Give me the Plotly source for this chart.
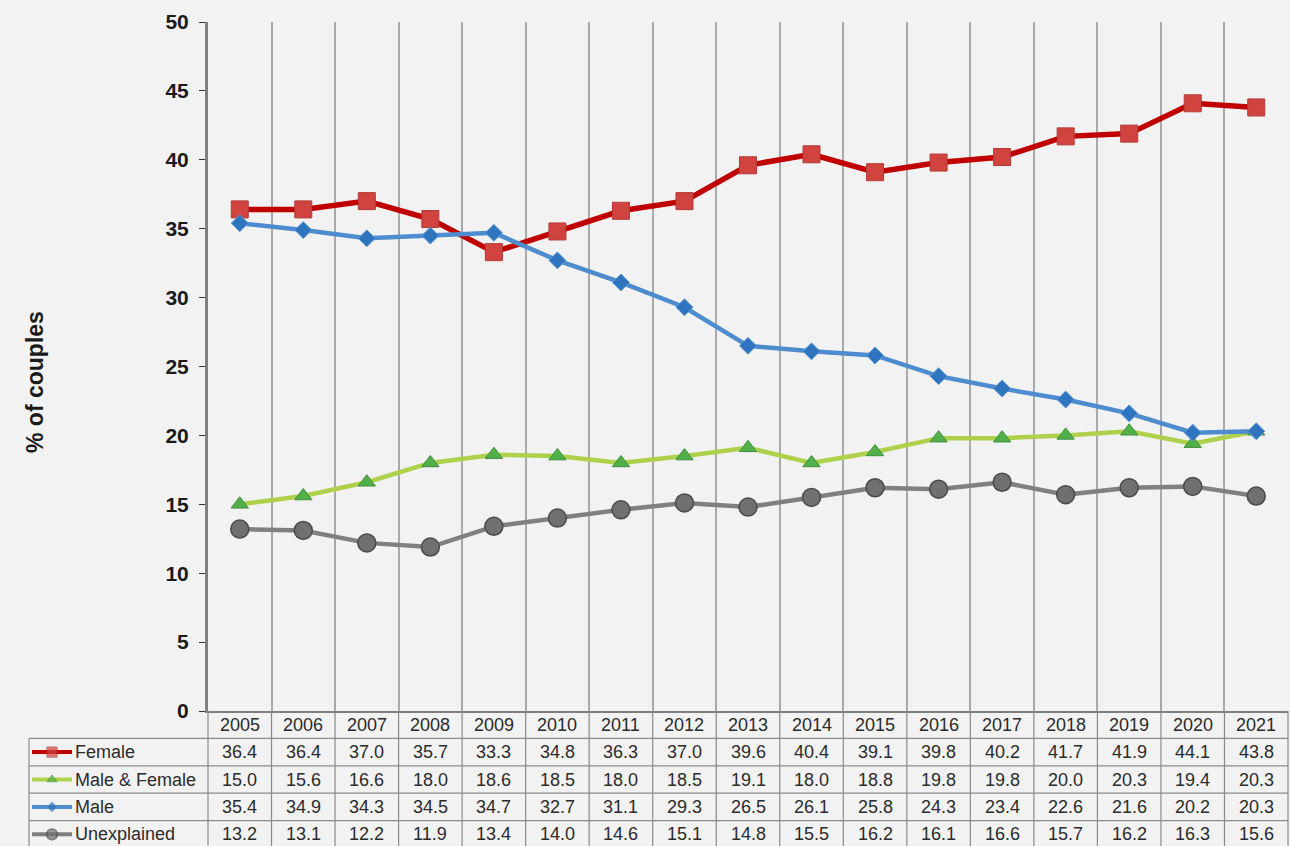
import plotly.graph_objects as go

years = [2005, 2006, 2007, 2008, 2009, 2010, 2011, 2012, 2013, 2014, 2015, 2016, 2017, 2018, 2019, 2020, 2021]
female = [36.4, 36.4, 37.0, 35.7, 33.3, 34.8, 36.3, 37.0, 39.6, 40.4, 39.1, 39.8, 40.2, 41.7, 41.9, 44.1, 43.8]
male_female = [15.0, 15.6, 16.6, 18.0, 18.6, 18.5, 18.0, 18.5, 19.1, 18.0, 18.8, 19.8, 19.8, 20.0, 20.3, 19.4, 20.3]
male = [35.4, 34.9, 34.3, 34.5, 34.7, 32.7, 31.1, 29.3, 26.5, 26.1, 25.8, 24.3, 23.4, 22.6, 21.6, 20.2, 20.3]
unexplained = [13.2, 13.1, 12.2, 11.9, 13.4, 14.0, 14.6, 15.1, 14.8, 15.5, 16.2, 16.1, 16.6, 15.7, 16.2, 16.3, 15.6]
series_names = ["Female", "Male & Female", "Male", "Unexplained"]
y_title = "% of couples"

W, H = 1290, 846
BG = "#f2f2f2"
FONT = "Liberation Sans, Arial, sans-serif"

# layout geometry (pixels)
PL, PR, PT, PB = 208, 1288, 22, 711
TL = 29
ROW_H = 27.4
n = len(years)
col_w = (PR - PL) / n

styles = [
    dict(line=dict(color="#c00000", width=5.5),
         marker=dict(symbol="square", size=17, color="#d0433f", line=dict(color="#b33a36", width=1))),
    dict(line=dict(color="#aed14c", width=4.5),
         marker=dict(symbol="triangle-up", size=15, color="#52b04a", line=dict(color="#3f8f3a", width=1))),
    dict(line=dict(color="#4d8ccf", width=4.5),
         marker=dict(symbol="diamond", size=13, color="#2f74bf", line=dict(color="#5a96d6", width=1))),
    dict(line=dict(color="#808080", width=4.5),
         marker=dict(symbol="circle", size=18, color="#707070", line=dict(color="#4a4a4a", width=1.5))),
]
values = [female, male_female, male, unexplained]

fig = go.Figure()
xs = list(range(n))
for name, vals, st in zip(series_names, values, styles):
    fig.add_trace(go.Scatter(x=xs, y=vals, mode="lines+markers", name=name,
                             line=st["line"], marker=st["marker"],
                             xaxis="x", yaxis="y", showlegend=False))

TFS = 18
TXT = "#2b2b2b"
LINE = "#8a8a8a"
shapes = []
annotations = []
row_centers = [PB + ROW_H * (i + 1.5) for i in range(len(series_names))]
for name, st, yc in zip(series_names, styles, row_centers):
    mk = st["marker"]
    mk = dict(symbol=mk["symbol"], color=mk["color"], line=mk["line"], size=[0, mk["size"] * 0.6, 0])
    fig.add_trace(go.Scatter(x=[32, 52, 72], y=[yc, yc, yc], mode="lines+markers",
                             line=dict(color=st["line"]["color"], width=4),
                             marker=mk, xaxis="x2", yaxis="y2", showlegend=False,
                             hoverinfo="skip"))
    annotations.append(dict(x=73, y=yc, xref="x2", yref="y2", text=name, showarrow=False,
                            xanchor="left", yanchor="middle",
                            font=dict(family=FONT, size=TFS, color=TXT)))

for i, yr in enumerate(years):
    cx = PL + col_w * (i + 0.5)
    annotations.append(dict(x=cx, y=PB + ROW_H * 0.5, xref="x2", yref="y2", text=str(yr),
                            showarrow=False, xanchor="center", yanchor="middle",
                            font=dict(family=FONT, size=TFS, color=TXT)))
    for vals, yc in zip(values, row_centers):
        annotations.append(dict(x=cx, y=yc, xref="x2", yref="y2", text=f"{vals[i]:.1f}",
                                showarrow=False, xanchor="center", yanchor="middle",
                                font=dict(family=FONT, size=TFS, color=TXT)))

for k in range(1, 5):
    yy = PB + ROW_H * k
    shapes.append(dict(type="line", xref="x2", yref="y2", x0=TL, x1=PR, y0=yy, y1=yy,
                       line=dict(color=LINE, width=1.2)))
shapes.append(dict(type="line", xref="x2", yref="y2", x0=TL, x1=TL, y0=PB + ROW_H, y1=H,
                   line=dict(color=LINE, width=1.2)))
for k in range(n + 1):
    xx = PL + col_w * k
    shapes.append(dict(type="line", xref="x2", yref="y2", x0=xx, x1=xx, y0=PB, y1=H,
                       line=dict(color=LINE, width=1.2)))

annotations.append(dict(x=35, y=382, xref="x2", yref="y2", text=y_title, textangle=-90,
                        showarrow=False, xanchor="center", yanchor="middle",
                        font=dict(family=FONT, size=23, color="#1a1a1a", weight="bold")))

fig.update_layout(
    width=W, height=H,
    margin=dict(l=0, r=0, t=0, b=0, pad=0, autoexpand=False),
    paper_bgcolor=BG, plot_bgcolor="rgba(0,0,0,0)",
    font=dict(family=FONT),
    xaxis=dict(domain=[PL / W, PR / W], range=[-0.5, n - 0.5], anchor="y", automargin=False,
               tickmode="array", tickvals=[k - 0.5 for k in range(n + 1)],
               showticklabels=False, ticks="", showgrid=True, gridcolor="#a9a9a9", gridwidth=1.6,
               zeroline=False, showline=True, linecolor="#7f7f7f", linewidth=1.5, fixedrange=True),
    yaxis=dict(domain=[(H - PB) / H, (H - PT) / H], range=[0, 50], dtick=5, anchor="x", automargin=False,
               showgrid=False, zeroline=False, showline=True, linecolor="#7f7f7f", linewidth=3,
               ticks="outside", ticklen=6, tickcolor="#333333", tickwidth=1, ticklabelstandoff=6,
               tickfont=dict(family=FONT, size=21, color="#1a1a1a", weight="bold"), fixedrange=True),
    xaxis2=dict(domain=[0, 1], range=[0, W], visible=False, anchor="y2", fixedrange=True, automargin=False),
    yaxis2=dict(domain=[0, 1], range=[H, 0], visible=False, anchor="x2", fixedrange=True, automargin=False),
    shapes=shapes,
    annotations=annotations,
)

fig.write_html("out.html", config={"responsive": False, "displayModeBar": False},
               post_script="document.body.style.margin='0';document.body.style.overflow='hidden';")
